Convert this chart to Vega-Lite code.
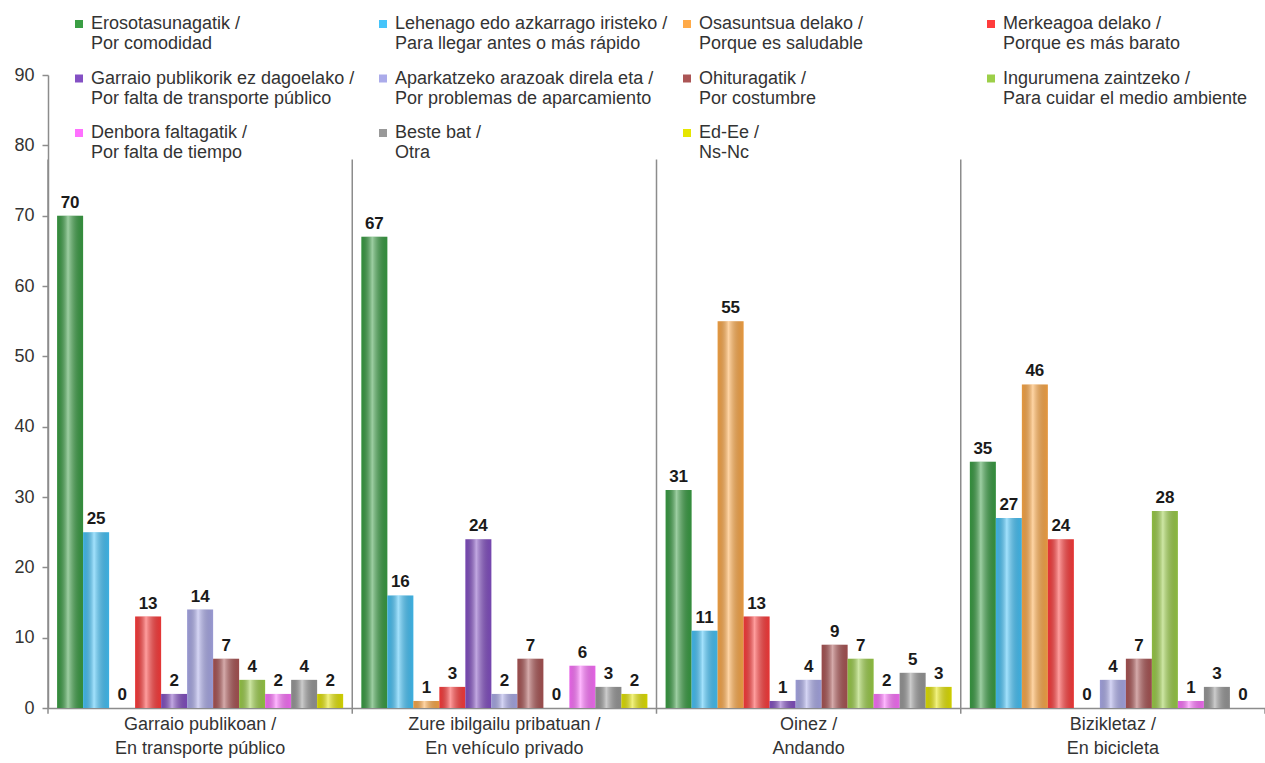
{
  "$schema": "https://vega.github.io/schema/vega-lite/v6.json",
  "width": 1217,
  "height": 633,
  "autosize": {"type": "none"},
  "padding": {"left": 48, "top": 75, "right": 0, "bottom": 55},
  "background": "white",
  "config": {
    "view": {"stroke": null},
    "font": "Liberation Sans"
  },
  "data": {
    "values": [
      {"g": "Garraio publikoan /|En transporte público", "c": "Erosotasunagatik /|Por comodidad", "v": 70},
      {"g": "Garraio publikoan /|En transporte público", "c": "Lehenago edo azkarrago iristeko /|Para llegar antes o más rápido", "v": 25},
      {"g": "Garraio publikoan /|En transporte público", "c": "Osasuntsua delako /|Porque es saludable", "v": 0},
      {"g": "Garraio publikoan /|En transporte público", "c": "Merkeagoa delako /|Porque es más barato", "v": 13},
      {"g": "Garraio publikoan /|En transporte público", "c": "Garraio publikorik ez dagoelako /|Por falta de transporte público", "v": 2},
      {"g": "Garraio publikoan /|En transporte público", "c": "Aparkatzeko arazoak direla eta /|Por problemas de aparcamiento", "v": 14},
      {"g": "Garraio publikoan /|En transporte público", "c": "Ohituragatik /|Por costumbre", "v": 7},
      {"g": "Garraio publikoan /|En transporte público", "c": "Ingurumena zaintzeko /|Para cuidar el medio ambiente", "v": 4},
      {"g": "Garraio publikoan /|En transporte público", "c": "Denbora faltagatik /|Por falta de tiempo", "v": 2},
      {"g": "Garraio publikoan /|En transporte público", "c": "Beste bat /|Otra", "v": 4},
      {"g": "Garraio publikoan /|En transporte público", "c": "Ed-Ee /|Ns-Nc", "v": 2},
      {"g": "Zure ibilgailu pribatuan  /|En vehículo privado", "c": "Erosotasunagatik /|Por comodidad", "v": 67},
      {"g": "Zure ibilgailu pribatuan  /|En vehículo privado", "c": "Lehenago edo azkarrago iristeko /|Para llegar antes o más rápido", "v": 16},
      {"g": "Zure ibilgailu pribatuan  /|En vehículo privado", "c": "Osasuntsua delako /|Porque es saludable", "v": 1},
      {"g": "Zure ibilgailu pribatuan  /|En vehículo privado", "c": "Merkeagoa delako /|Porque es más barato", "v": 3},
      {"g": "Zure ibilgailu pribatuan  /|En vehículo privado", "c": "Garraio publikorik ez dagoelako /|Por falta de transporte público", "v": 24},
      {"g": "Zure ibilgailu pribatuan  /|En vehículo privado", "c": "Aparkatzeko arazoak direla eta /|Por problemas de aparcamiento", "v": 2},
      {"g": "Zure ibilgailu pribatuan  /|En vehículo privado", "c": "Ohituragatik /|Por costumbre", "v": 7},
      {"g": "Zure ibilgailu pribatuan  /|En vehículo privado", "c": "Ingurumena zaintzeko /|Para cuidar el medio ambiente", "v": 0},
      {"g": "Zure ibilgailu pribatuan  /|En vehículo privado", "c": "Denbora faltagatik /|Por falta de tiempo", "v": 6},
      {"g": "Zure ibilgailu pribatuan  /|En vehículo privado", "c": "Beste bat /|Otra", "v": 3},
      {"g": "Zure ibilgailu pribatuan  /|En vehículo privado", "c": "Ed-Ee /|Ns-Nc", "v": 2},
      {"g": "Oinez /|Andando", "c": "Erosotasunagatik /|Por comodidad", "v": 31},
      {"g": "Oinez /|Andando", "c": "Lehenago edo azkarrago iristeko /|Para llegar antes o más rápido", "v": 11},
      {"g": "Oinez /|Andando", "c": "Osasuntsua delako /|Porque es saludable", "v": 55},
      {"g": "Oinez /|Andando", "c": "Merkeagoa delako /|Porque es más barato", "v": 13},
      {"g": "Oinez /|Andando", "c": "Garraio publikorik ez dagoelako /|Por falta de transporte público", "v": 1},
      {"g": "Oinez /|Andando", "c": "Aparkatzeko arazoak direla eta /|Por problemas de aparcamiento", "v": 4},
      {"g": "Oinez /|Andando", "c": "Ohituragatik /|Por costumbre", "v": 9},
      {"g": "Oinez /|Andando", "c": "Ingurumena zaintzeko /|Para cuidar el medio ambiente", "v": 7},
      {"g": "Oinez /|Andando", "c": "Denbora faltagatik /|Por falta de tiempo", "v": 2},
      {"g": "Oinez /|Andando", "c": "Beste bat /|Otra", "v": 5},
      {"g": "Oinez /|Andando", "c": "Ed-Ee /|Ns-Nc", "v": 3},
      {"g": "Bizikletaz /|En bicicleta", "c": "Erosotasunagatik /|Por comodidad", "v": 35},
      {"g": "Bizikletaz /|En bicicleta", "c": "Lehenago edo azkarrago iristeko /|Para llegar antes o más rápido", "v": 27},
      {"g": "Bizikletaz /|En bicicleta", "c": "Osasuntsua delako /|Porque es saludable", "v": 46},
      {"g": "Bizikletaz /|En bicicleta", "c": "Merkeagoa delako /|Porque es más barato", "v": 24},
      {"g": "Bizikletaz /|En bicicleta", "c": "Garraio publikorik ez dagoelako /|Por falta de transporte público", "v": 0},
      {"g": "Bizikletaz /|En bicicleta", "c": "Aparkatzeko arazoak direla eta /|Por problemas de aparcamiento", "v": 4},
      {"g": "Bizikletaz /|En bicicleta", "c": "Ohituragatik /|Por costumbre", "v": 7},
      {"g": "Bizikletaz /|En bicicleta", "c": "Ingurumena zaintzeko /|Para cuidar el medio ambiente", "v": 28},
      {"g": "Bizikletaz /|En bicicleta", "c": "Denbora faltagatik /|Por falta de tiempo", "v": 1},
      {"g": "Bizikletaz /|En bicicleta", "c": "Beste bat /|Otra", "v": 3},
      {"g": "Bizikletaz /|En bicicleta", "c": "Ed-Ee /|Ns-Nc", "v": 0}
    ]
  },
  "encoding": {
    "x": {
      "field": "g",
      "type": "nominal",
      "sort": null,
      "scale": {"paddingInner": 0, "paddingOuter": 0},
      "axis": {
        "title": null,
        "labelAngle": 0,
        "ticks": false,
        "domainColor": "#8c8c8c",
        "domainWidth": 1.5,
        "labelExpr": "split(datum.label, '|')",
        "labelFont": "Liberation Sans",
        "labelFontSize": 18,
        "labelColor": "#333333",
        "labelPadding": 7,
        "labelBaseline": "top",
        "labelLineHeight": 24,
        "labelLimit": 400
      }
    },
    "y": {
      "field": "v",
      "type": "quantitative",
      "scale": {"domain": [0, 90], "nice": false, "zero": true},
      "axis": {
        "title": null,
        "values": [0, 10, 20, 30, 40, 50, 60, 70, 80, 90],
        "grid": false,
        "domainColor": "#8c8c8c",
        "domainWidth": 1.5,
        "tickColor": "#8c8c8c",
        "tickWidth": 1.5,
        "tickSize": 6,
        "labelFont": "Liberation Sans",
        "labelFontSize": 18,
        "labelColor": "#333333",
        "labelPadding": 8
      }
    }
  },
  "layer": [
    {
      "transform": [{"filter": "datum.c == 'Erosotasunagatik /|Por comodidad'"}],
      "mark": {"type": "rule", "color": "#8c8c8c", "strokeWidth": 1.5},
      "encoding": {
        "x": {"field": "g", "type": "nominal", "sort": null, "bandPosition": 0},
        "y": {"datum": 78},
        "y2": {"datum": -0.8}
      }
    },
    {
      "transform": [{"filter": "datum.c == 'Erosotasunagatik /|Por comodidad' && datum.g == 'Bizikletaz /|En bicicleta'"}],
      "mark": {"type": "rule", "color": "#8c8c8c", "strokeWidth": 1.5},
      "encoding": {
        "x": {"field": "g", "type": "nominal", "sort": null, "bandPosition": 1},
        "y": {"datum": 0},
        "y2": {"datum": -0.8}
      }
    },
    {
      "mark": {"type": "bar"},
      "encoding": {
        "xOffset": {
          "field": "c",
          "type": "nominal",
          "sort": null,
          "scale": {"paddingInner": 0, "paddingOuter": 0.35}
        },
        "color": {
          "field": "c",
          "type": "nominal",
          "scale": {
            "domain": [
              "Erosotasunagatik /|Por comodidad",
              "Lehenago edo azkarrago iristeko /|Para llegar antes o más rápido",
              "Osasuntsua delako /|Porque es saludable",
              "Merkeagoa delako /|Porque es más barato",
              "Garraio publikorik ez dagoelako /|Por falta de transporte público",
              "Aparkatzeko arazoak direla eta /|Por problemas de aparcamiento",
              "Ohituragatik /|Por costumbre",
              "Ingurumena zaintzeko /|Para cuidar el medio ambiente",
              "Denbora faltagatik /|Por falta de tiempo",
              "Beste bat /|Otra",
              "Ed-Ee /|Ns-Nc"
            ],
            "range": ["#3a9e44", "#45c4fa", "#ffaa48", "#ff3c3c", "#8450c4", "#ababea", "#ab5555", "#9ccf48", "#ff70ff", "#999999", "#e6e600"]
          },
          "legend": {
            "title": null,
            "orient": "none",
            "legendX": 22,
            "legendY": -60,
            "direction": "horizontal",
            "columns": 4,
            "gridAlign": "all",
            "columnPadding": 10,
            "rowPadding": 16.5,
            "padding": 0,
            "symbolType": "square",
            "symbolSize": 64,
            "symbolStrokeWidth": 0,
            "labelOffset": 3,
            "labelExpr": "split(datum.label, '|')",
            "labelFont": "Liberation Sans",
            "labelFontSize": 18,
            "labelColor": "#333333",
            "labelBaseline": "middle",
            "labelLineHeight": 22,
            "labelLimit": 400
          }
        }
      }
    },
    {
      "mark": {
        "type": "bar",
        "color": {
          "gradient": "linear", "x1": 0, "y1": 0, "x2": 1, "y2": 0,
          "stops": [
            {"offset": 0, "color": "rgba(0,0,0,0.1)"},
            {"offset": 0.42, "color": "rgba(255,255,255,0.5)"},
            {"offset": 1, "color": "rgba(0,0,0,0.1)"}
          ]
        }
      },
      "encoding": {
        "xOffset": {
          "field": "c",
          "type": "nominal",
          "sort": null,
          "scale": {"paddingInner": 0, "paddingOuter": 0.35}
        }
      }
    },
    {
      "mark": {"type": "text", "baseline": "alphabetic", "dy": -8, "fontWeight": "bold", "fontSize": 17, "font": "Liberation Sans", "color": "#1a1a1a"},
      "encoding": {
        "xOffset": {
          "field": "c",
          "type": "nominal",
          "sort": null,
          "scale": {"paddingInner": 0, "paddingOuter": 0.35}
        },
        "text": {"field": "v", "type": "quantitative"}
      }
    }
  ]
}
